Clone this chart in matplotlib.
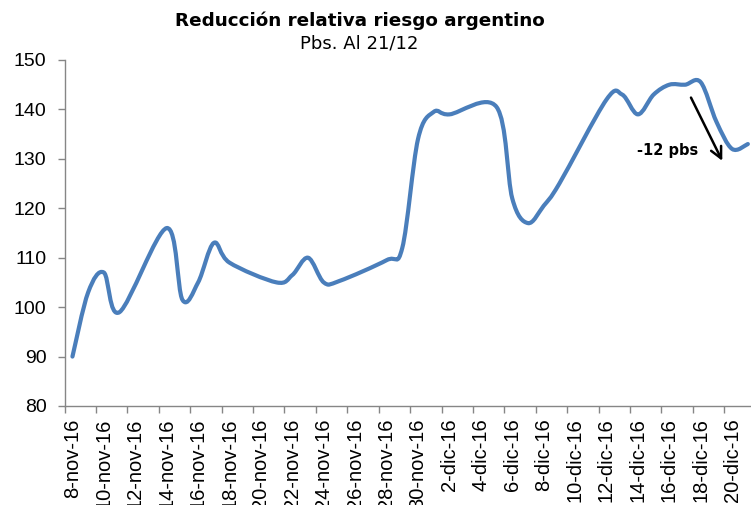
import matplotlib
matplotlib.use("Agg")
import matplotlib.pyplot as plt
import numpy as np
import pandas as pd
from matplotlib.path import Path
from matplotlib.patches import PathPatch

# Data (Pbs.)
dates = ["2016-11-08", "2016-11-09", "2016-11-10", "2016-11-11", "2016-11-14",
         "2016-11-15", "2016-11-16", "2016-11-17", "2016-11-18", "2016-11-21",
         "2016-11-22", "2016-11-23", "2016-11-24", "2016-11-25", "2016-11-28",
         "2016-11-29", "2016-11-30", "2016-12-01", "2016-12-02", "2016-12-05",
         "2016-12-06", "2016-12-07", "2016-12-08", "2016-12-09", "2016-12-12",
         "2016-12-13", "2016-12-14", "2016-12-15", "2016-12-16", "2016-12-17",
         "2016-12-18", "2016-12-19", "2016-12-20", "2016-12-21"]
riesgo = [90, 103, 107, 99, 116,
          101.5, 105, 113, 109, 105,
          106.5, 110, 105, 105.3, 109.5,
          112, 134, 139.5, 139, 140.5,
          122, 117, 120.5, 125, 142,
          143, 139, 143, 145, 145,
          145.5, 137.5, 132, 133]

meses = {11: "nov", 12: "dic"}
start = pd.Timestamp("2016-11-08")
fechas = pd.to_datetime(dates)
x = np.array([(f - start).days for f in fechas], dtype=float)
y = np.array(riesgo, dtype=float)

label_days = pd.date_range("2016-11-08", "2016-12-20", freq="2D")
label_pos = [(d - start).days for d in label_days]
label_txt = [f"{d.day}-{meses[d.month]}-16" for d in label_days]


def smooth_path(xs, ys):
    # Catmull-Rom style cubic bezier, like Excel's smoothed line
    pts = np.column_stack([xs, ys])
    n = len(pts)
    verts = [pts[0]]
    codes = [Path.MOVETO]
    for i in range(n - 1):
        p0 = pts[i - 1] if i > 0 else pts[i]
        p1 = pts[i]
        p2 = pts[i + 1]
        p3 = pts[i + 2] if i + 2 < n else pts[i + 1]
        c1 = p1 + (p2 - p0) / 6.0
        c2 = p2 - (p3 - p1) / 6.0
        verts += [c1, c2, p2]
        codes += [Path.CURVE4] * 3
    return Path(verts, codes)


plt.rcParams['font.family'] = ['Liberation Sans', 'DejaVu Sans']

fig = plt.figure(figsize=(7.51, 5.05), dpi=100)
ax = fig.add_axes([64.6 / 751, 99 / 505, (751 - 64.6) / 751, 346 / 505])

line = PathPatch(smooth_path(x, y), facecolor='none', edgecolor='#4a7ebb',
                 linewidth=3, capstyle='round', joinstyle='round')
ax.add_patch(line)

ax.set_xlim(-0.5, 43.2)
ax.set_ylim(80, 150)
ax.set_yticks(range(80, 151, 10))

ax.set_xticks(label_pos)
ax.set_xticklabels(label_txt, rotation=90, va='top', ha='center')
ax.set_xticks(np.arange(-0.5, 43.5, 2), minor=True)
ax.tick_params(axis='x', which='major', length=0, pad=9, labelsize=14.5)
ax.tick_params(axis='x', which='minor', length=5, width=1, color='#868686')
ax.tick_params(axis='y', length=5, width=1, color='#868686', pad=8, labelsize=14)

for s in ['top', 'right']:
    ax.spines[s].set_visible(False)
for s in ['left', 'bottom']:
    ax.spines[s].set_color('#868686')
    ax.spines[s].set_linewidth(1)

# titles
fig.text(360 / 751, 1 - 21 / 505, "Reducción relativa riesgo argentino",
         ha='center', va='center', fontsize=13.2, fontweight='bold',
         family='DejaVu Sans')
fig.text(359 / 751, 1 - 44 / 505, "Pbs. Al 21/12",
         ha='center', va='center', fontsize=13, family='DejaVu Sans')

# annotation
ax.annotate("", xy=(41.45, 129.1), xytext=(39.3, 142.9),
            arrowprops=dict(arrowstyle='->', color='black', lw=1.8,
                            mutation_scale=20))
ax.text(37.9, 131.6, "-12 pbs", ha='center', va='center', fontsize=10.5,
        fontweight='bold', family='DejaVu Sans')

fig.savefig("out.png", dpi=100)
